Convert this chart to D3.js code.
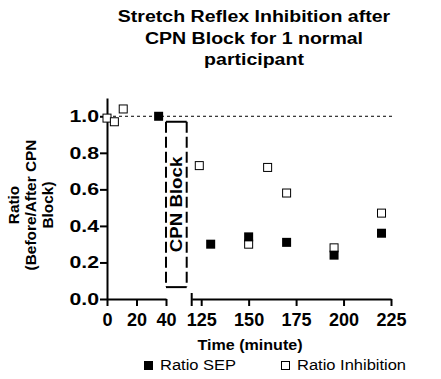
<!DOCTYPE html>
<html><head><meta charset="utf-8">
<script src="https://cdn.jsdelivr.net/npm/d3@7"></script>
<style>
body{margin:0;background:#fff;}
text{font-family:Arial,"Liberation Sans",sans-serif;}
</style></head>
<body><svg id="c" width="441" height="379"></svg>
<script>
const titleLines = ["Stretch Reflex Inhibition after", "CPN Block for 1 normal", "participant"];
const yLabelLines = ["Ratio", "(Before/After CPN", "Block)"];
const xLabel = "Time (minute)";
const seriesNames = ["Ratio SEP", "Ratio Inhibition"];
const timeSEP = [35, 130, 150, 170, 195, 220];
const ratioSEP = [1.0, 0.30, 0.34, 0.31, 0.24, 0.36];
const timeInh = [0, 5, 11, 124, 150, 160, 170, 195, 220];
const ratioInh = [0.99, 0.97, 1.04, 0.73, 0.30, 0.72, 0.58, 0.28, 0.47];
const yTicks = [0, 0.2, 0.4, 0.6, 0.8, 1.0];
const xTicks1 = [0, 20, 40];
const xTicks2 = [125, 150, 175, 200, 225];
const blockLabel = "CPN Block";

const svg = d3.select("#c");
const y = d3.scaleLinear().domain([0, 1.1]).range([299, 98]);
const x1 = d3.scaleLinear().domain([0, 40]).range([107, 166]);
const x2 = d3.scaleLinear().domain([120, 225]).range([191.7, 391]);
const xx = t => t <= 40 ? x1(t) : x2(t);

// stretched text helper
function stext(parent, x, y, str, size, weight, sx, anchor) {
  const g = parent.append("g").attr("transform", `translate(${x},${y}) scale(${sx},1)`);
  return g.append("text").attr("text-anchor", anchor || "middle")
    .attr("font-size", size).attr("font-weight", weight).text(str);
}

// title
titleLines.forEach((t, i) => stext(svg, 254, 22 + i * 21.5, t, 17, "bold", 1.15));

// y label (rotated)
const yl = svg.append("g").attr("transform", "translate(0,205) rotate(-90)");
yLabelLines.forEach((t, i) => stext(yl, 0, 19 + i * 17, t, 14, "bold", 1.1));

// dashed reference line
svg.append("line").attr("x1", x1(0)).attr("x2", x2(225) + 2)
  .attr("y1", y(1)).attr("y2", y(1))
  .attr("stroke", "#000").attr("stroke-width", 1).attr("stroke-dasharray", "3,3");

function styleAxis(g, size, sx, ox) {
  g.selectAll("path,line").attr("stroke", "#000").attr("stroke-width", 2);
  g.selectAll("text").attr("font-weight", "bold").attr("font-size", size)
    .attr("font-family", "Arial,'Liberation Sans',sans-serif").attr("fill", "#000")
    .attr("transform", `translate(${ox},0) scale(${sx},1) translate(${-ox},0)`);
}

// y axis
const ya = svg.append("g").attr("transform", `translate(${x1(0)},0)`)
  .call(d3.axisLeft(y).tickValues(yTicks).tickFormat(d3.format(".1f")).tickSize(7).tickSizeOuter(0).tickPadding(1));
styleAxis(ya, 17, 1.25, -8);

// x axis segment 1
const xa1 = svg.append("g").attr("transform", `translate(0,${y(0)})`)
  .call(d3.axisBottom(x1).tickValues(xTicks1).tickSize(7).tickSizeOuter(0).tickPadding(7));
styleAxis(xa1, 19, 0.95, 0);

// x axis segment 2
const xa2 = svg.append("g").attr("transform", `translate(0,${y(0)})`)
  .call(d3.axisBottom(x2).tickValues(xTicks2).tickSize(7).tickSizeOuter(0).tickPadding(7));
styleAxis(xa2, 19, 0.95, 0);
svg.append("line").attr("x1", x2(120)).attr("x2", x2(120))
  .attr("y1", y(0) - 6).attr("y2", y(0) + 7).attr("stroke", "#000").attr("stroke-width", 2);

// CPN block box
const bx0 = x1(40), bx1 = x2(120) - 5, by0 = y(0.97), by1 = y(0.065);
svg.append("rect").attr("x", bx0).attr("y", by0).attr("width", bx1 - bx0).attr("height", by1 - by0)
  .attr("fill", "#fff");
svg.append("line").attr("x1", bx0).attr("x2", bx1).attr("y1", by0).attr("y2", by0).attr("stroke", "#000").attr("stroke-width", 2);
svg.append("line").attr("x1", bx0).attr("x2", bx1).attr("y1", by1).attr("y2", by1).attr("stroke", "#000").attr("stroke-width", 2);
[bx0, bx1].forEach(xv => svg.append("line").attr("x1", xv).attr("x2", xv).attr("y1", by0).attr("y2", by1)
  .attr("stroke", "#000").attr("stroke-width", 2).attr("stroke-dasharray", "11,4"));
svg.append("text").attr("transform", `translate(${(bx0 + bx1) / 2 + 6},${(by0 + by1) / 2}) rotate(-90) scale(1.1,1)`)
  .attr("text-anchor", "middle").attr("font-weight", "bold").attr("font-size", 17).text(blockLabel);

// points: inhibition (open) then SEP (filled)
svg.append("g").selectAll("rect").data(timeInh.map((t, i) => [t, ratioInh[i]])).join("rect")
  .attr("x", d => xx(d[0]) - 4).attr("y", d => y(d[1]) - 4).attr("width", 8).attr("height", 8)
  .attr("fill", "#fff").attr("stroke", "#000").attr("stroke-width", 1);
svg.append("g").selectAll("rect").data(timeSEP.map((t, i) => [t, ratioSEP[i]])).join("rect")
  .attr("x", d => xx(d[0]) - 4.5).attr("y", d => y(d[1]) - 4.5).attr("width", 9).attr("height", 9)
  .attr("fill", "#000");

// x label
stext(svg, 250, 350, xLabel, 14, "bold", 1.15);

// legend
const leg = svg.append("g");
leg.append("rect").attr("x", 144).attr("y", 361).attr("width", 9).attr("height", 9).attr("fill", "#000");
stext(leg, 160, 370, seriesNames[0], 15, "normal", 1.1, "start");
leg.append("rect").attr("x", 281.5).attr("y", 361.5).attr("width", 8).attr("height", 8)
  .attr("fill", "#fff").attr("stroke", "#000").attr("stroke-width", 1);
stext(leg, 297, 370, seriesNames[1], 15, "normal", 1.1, "start");
</script></body></html>
